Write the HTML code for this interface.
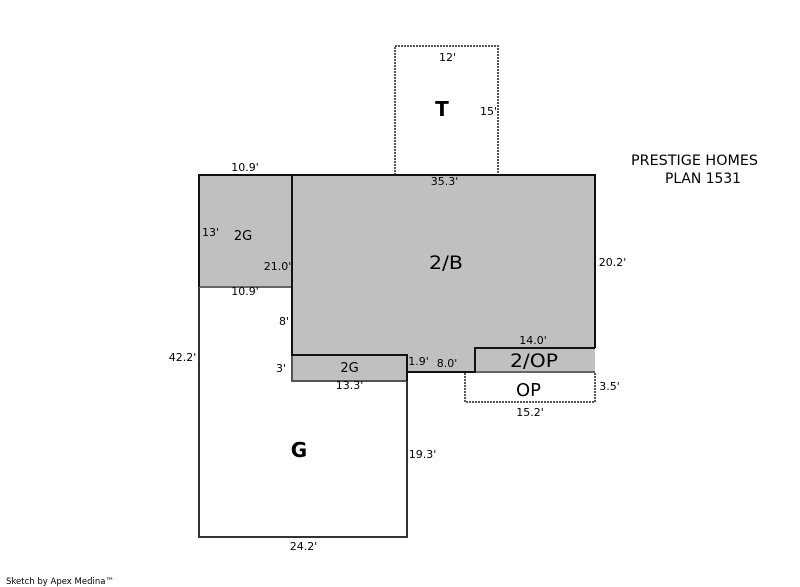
<!DOCTYPE html>
<html>
<head>
<meta charset="utf-8">
<style>
html,body{margin:0;padding:0;background:#fff;width:800px;height:587px;overflow:hidden}
svg{display:block}
text{font-family:"DejaVu Sans","Liberation Sans",sans-serif;fill:#000;letter-spacing:0}
</style>
</head>
<body>
<svg width="800" height="587" viewBox="0 0 800 587" xmlns="http://www.w3.org/2000/svg">
<rect width="800" height="587" fill="#fff"/>
<!-- fills -->
<rect x="199" y="175" width="93" height="112" fill="#c0c0c0"/>
<rect x="292" y="175" width="303" height="180" fill="#c0c0c0"/>
<rect x="407" y="355" width="188" height="17" fill="#c0c0c0"/>
<rect x="292" y="355" width="115" height="26" fill="#c0c0c0"/>
<!-- T dashed -->
<path d="M395 175V46H498V175" fill="none" stroke="#555" stroke-width="2" stroke-dasharray="2 1"/>
<!-- OP dashed -->
<path d="M465 373V402H595V373" fill="none" stroke="#555" stroke-width="2" stroke-dasharray="2 1"/>
<!-- G outline -->
<path d="M199 287V537H407V381" fill="none" stroke="#333" stroke-width="2"/>
<!-- gray shared lines -->
<path d="M199 287H292" fill="none" stroke="#666" stroke-width="2"/>
<path d="M292 355V381H407" fill="none" stroke="#555" stroke-width="2"/>
<path d="M475 372H595" fill="none" stroke="#666" stroke-width="2"/>
<!-- heavy outlines -->
<path d="M199 287V175H595V348" fill="none" stroke="#111" stroke-width="2"/>
<path d="M292 175V355H407V372H475V348H595" fill="none" stroke="#111" stroke-width="2"/>
<path d="M407 355V381" fill="none" stroke="#111" stroke-width="2"/>
<!-- small labels -->
<g font-size="11">
<text x="447.500" y="61" text-anchor="middle">12'</text>
<text x="488.500" y="115" text-anchor="middle">15'</text>
<text x="444.500" y="185" text-anchor="middle">35.3'</text>
<text x="245" y="171" text-anchor="middle">10.9'</text>
<text x="210.500" y="236" text-anchor="middle">13'</text>
<text x="277.500" y="270" text-anchor="middle">21.0'</text>
<text x="245" y="295" text-anchor="middle">10.9'</text>
<text x="284" y="325" text-anchor="middle">8'</text>
<text x="182.500" y="361" text-anchor="middle">42.2'</text>
<text x="281" y="372" text-anchor="middle">3'</text>
<text x="349.500" y="389" text-anchor="middle">13.3'</text>
<text x="418.500" y="365" text-anchor="middle">1.9'</text>
<text x="447" y="367" text-anchor="middle">8.0'</text>
<text x="533" y="344" text-anchor="middle">14.0'</text>
<text x="612.500" y="266" text-anchor="middle">20.2'</text>
<text x="609.500" y="390" text-anchor="middle">3.5'</text>
<text x="530" y="416" text-anchor="middle">15.2'</text>
<text x="422.500" y="458" text-anchor="middle">19.3'</text>
<text x="303.500" y="550" text-anchor="middle">24.2'</text>
</g>
<!-- area labels -->
<text x="243" y="240" text-anchor="middle" font-size="13">2G</text>
<text x="349.500" y="372" text-anchor="middle" font-size="13">2G</text>
<text x="429" y="269" font-size="18.500" textLength="34" lengthAdjust="spacingAndGlyphs">2/B</text>
<text x="510" y="367" font-size="18.500" textLength="48" lengthAdjust="spacingAndGlyphs">2/OP</text>
<text x="516" y="396" font-size="18" textLength="25" lengthAdjust="spacingAndGlyphs">OP</text>
<text x="442" y="116" text-anchor="middle" font-size="20" font-weight="bold">T</text>
<text x="299" y="457" text-anchor="middle" font-size="20" font-weight="bold">G</text>
<!-- title -->
<text x="631" y="165" font-size="14.500" textLength="127" lengthAdjust="spacingAndGlyphs">PRESTIGE HOMES</text>
<text x="665" y="183" font-size="14.500" textLength="76" lengthAdjust="spacingAndGlyphs">PLAN 1531</text>
<!-- footer -->
<text x="6" y="584" font-size="9" textLength="108" lengthAdjust="spacingAndGlyphs">Sketch by Apex Medina™</text>
</svg>
</body>
</html>
